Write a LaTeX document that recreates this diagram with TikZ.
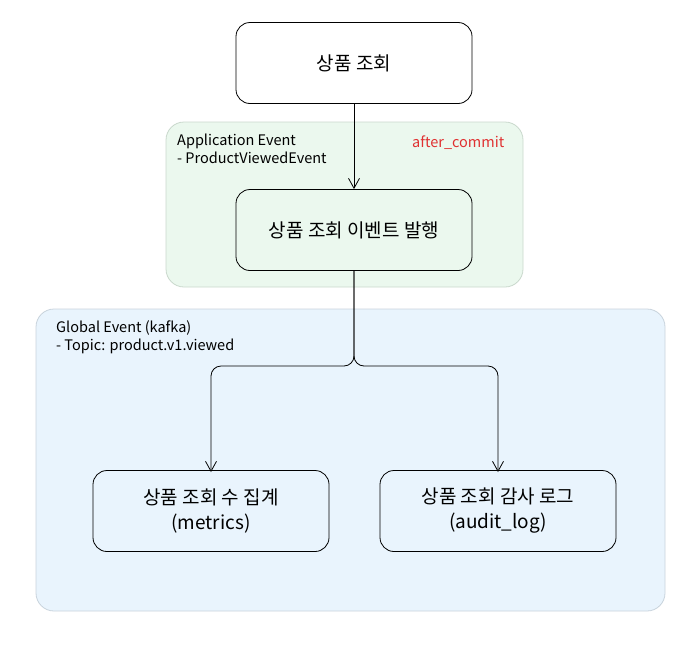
\documentclass[tikz,border=0pt]{standalone}
\usepackage{fontspec}
\setmainfont{Noto Sans CJK KR}
\usetikzlibrary{positioning,arrows.meta}
\definecolor{appfill}{HTML}{EBF8EE}
\definecolor{appline}{HTML}{C9D8CC}
\definecolor{glbfill}{HTML}{E9F4FD}
\definecolor{glbline}{HTML}{C8D3DC}
\definecolor{commitred}{HTML}{E03131}
\begin{document}
\begin{tikzpicture}[x=1pt,y=-1pt,
	stepbox/.style={rectangle,draw,rounded corners=14pt,thick,minimum width=236pt,minimum height=81pt,align=center,font=\fontsize{19}{25}\selectfont},
	note/.style={align=left,anchor=north west,font=\fontsize{14.5}{18}\selectfont,inner sep=0pt},
	flow/.style={-{Straight Barb[length=10pt,width=11pt]},line width=0.8pt,rounded corners=10pt}]
	\useasboundingbox (0,0) rectangle (700,653);
	% zones
	\fill [appfill,draw=appline,rounded corners=18pt,line width=0.8pt] (166,122) rectangle (523,287);
	\fill [glbfill,draw=glbline,rounded corners=18pt,line width=0.8pt] (36,309) rectangle (665,611);
	\node [note] (an) at (177,134) {Application Event\\- ProductViewedEvent};
	\node [note,text=commitred] (ac) at (412,136) {after\_commit};
	\node [note] (gn) at (56,320) {Global Event (kafka)\\- Topic: product.v1.viewed};
	% boxes
	\node [stepbox,fill=white] (view) at (354,63) {상품 조회};
	\node [stepbox,fill=appfill] (pub) at (354,230) {상품 조회 이벤트 발행};
	\node [stepbox,fill=glbfill] (metric) at (211,511) {상품 조회 수 집계\\(metrics)};
	\node [stepbox,fill=glbfill] (audit) at (498,511) {상품 조회 감사 로그\\(audit\_log)};
	% arrows
	\coordinate (split) at (354,366);
	\draw [flow] (view) -- (pub);
	\draw [flow] (pub.south) -- (split) -| ([yshift=-2pt]metric.north);
	\draw [flow] (pub.south) -- (split) -| ([yshift=-2pt]audit.north);
\end{tikzpicture}
\end{document}
